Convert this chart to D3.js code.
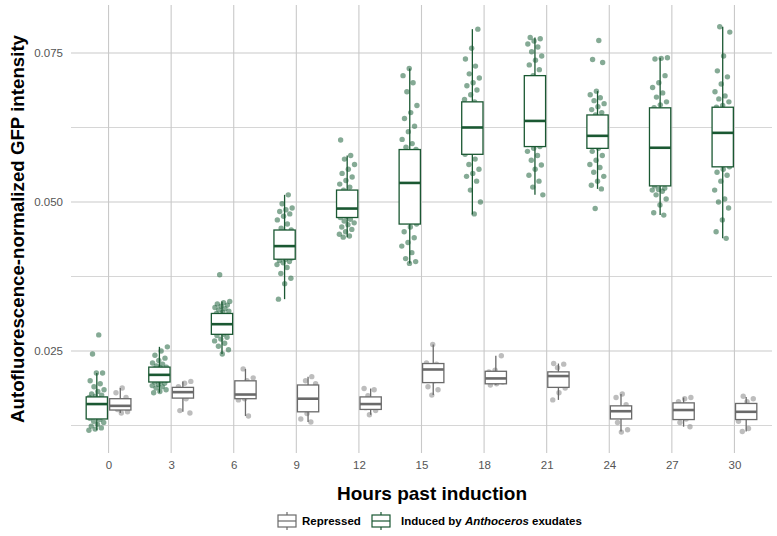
<!DOCTYPE html>
<html>
<head>
<meta charset="utf-8">
<script src="https://cdn.jsdelivr.net/npm/d3@7"></script>
<style>
  body { margin: 0; background: #fff; }
  text { font-family: "Liberation Sans", Arial, sans-serif; }
</style>
</head>
<body>
<div id="chart"></div>
<script>

///////////////////////////////////////////////////////////////////////////
//////////////////////////////// The data /////////////////////////////////
///////////////////////////////////////////////////////////////////////////

var hours = [0, 3, 6, 9, 12, 15, 18, 21, 24, 27, 30];
var yTicks = [0.025, 0.050, 0.075];
var yMinorTicks = [0.0125, 0.0375, 0.0625];

//Induced by Anthoceros exudates - box stats
var indQ1  = [0.0136, 0.0198, 0.0278, 0.0404, 0.0474, 0.0463, 0.0580, 0.0593, 0.0590, 0.0527, 0.0559];
var indMed = [0.0161, 0.0210, 0.0295, 0.0426, 0.0489, 0.0532, 0.0625, 0.0636, 0.0611, 0.0591, 0.0616];
var indQ3  = [0.0173, 0.0223, 0.0313, 0.0453, 0.0520, 0.0588, 0.0668, 0.0712, 0.0646, 0.0658, 0.0659];
var indLo  = [0.0117, 0.0180, 0.0245, 0.0337, 0.0441, 0.0397, 0.0479, 0.0512, 0.0522, 0.0478, 0.0439];
var indHi  = [0.0213, 0.0257, 0.0333, 0.0512, 0.0578, 0.0724, 0.0790, 0.0776, 0.0686, 0.0742, 0.0794];

//Repressed - box stats
var repQ1  = [0.0151, 0.0171, 0.0170, 0.0148, 0.0152, 0.0197, 0.0195, 0.0189, 0.0136, 0.0135, 0.0135];
var repMed = [0.0158, 0.0181, 0.0177, 0.0170, 0.0161, 0.0219, 0.0204, 0.0208, 0.0149, 0.0151, 0.0148];
var repQ3  = [0.0170, 0.0189, 0.0200, 0.0193, 0.0173, 0.0229, 0.0216, 0.0215, 0.0158, 0.0163, 0.0162];
var repLo  = [0.0146, 0.0148, 0.0141, 0.0131, 0.0143, 0.0176, 0.0193, 0.0168, 0.0115, 0.0123, 0.0115];
var repHi  = [0.0188, 0.0199, 0.0220, 0.0207, 0.0187, 0.0261, 0.0242, 0.0229, 0.0178, 0.0172, 0.0173];

//Individual measurements, one list per hour
var indPoints = [
  [0.0277, 0.0245, 0.0213, 0.0213, 0.0200, 0.0195, 0.0190, 0.0185, 0.0182, 0.0178, 0.0176, 0.0174, 0.0172, 0.0170, 0.0168, 0.0166, 0.0164, 0.0162, 0.0160, 0.0158, 0.0155, 0.0152, 0.0148, 0.0144, 0.0140, 0.0137, 0.0135, 0.0132, 0.0130, 0.0127, 0.0124, 0.0121, 0.0119, 0.0117],
  [0.0257, 0.0250, 0.0243, 0.0238, 0.0234, 0.0230, 0.0228, 0.0225, 0.0223, 0.0222, 0.0220, 0.0218, 0.0216, 0.0214, 0.0212, 0.0211, 0.0210, 0.0209, 0.0207, 0.0205, 0.0203, 0.0201, 0.0199, 0.0198, 0.0196, 0.0194, 0.0192, 0.0190, 0.0188, 0.0185, 0.0182, 0.0180],
  [0.0378, 0.0333, 0.0331, 0.0329, 0.0327, 0.0325, 0.0323, 0.0321, 0.0319, 0.0317, 0.0315, 0.0313, 0.0310, 0.0307, 0.0304, 0.0300, 0.0297, 0.0295, 0.0293, 0.0290, 0.0287, 0.0284, 0.0281, 0.0278, 0.0276, 0.0273, 0.0270, 0.0267, 0.0263, 0.0258, 0.0252, 0.0245],
  [0.0512, 0.0497, 0.0490, 0.0487, 0.0484, 0.0480, 0.0476, 0.0470, 0.0463, 0.0456, 0.0453, 0.0450, 0.0446, 0.0441, 0.0436, 0.0431, 0.0428, 0.0426, 0.0424, 0.0421, 0.0417, 0.0413, 0.0409, 0.0406, 0.0404, 0.0402, 0.0400, 0.0398, 0.0395, 0.0390, 0.0380, 0.0372, 0.0363, 0.0337],
  [0.0604, 0.0578, 0.0572, 0.0563, 0.0555, 0.0548, 0.0542, 0.0536, 0.0530, 0.0525, 0.0520, 0.0515, 0.0508, 0.0500, 0.0494, 0.0490, 0.0488, 0.0485, 0.0482, 0.0479, 0.0476, 0.0474, 0.0471, 0.0468, 0.0465, 0.0462, 0.0458, 0.0454, 0.0450, 0.0446, 0.0443, 0.0441],
  [0.0724, 0.0712, 0.0700, 0.0685, 0.0662, 0.0650, 0.0640, 0.0627, 0.0618, 0.0605, 0.0598, 0.0592, 0.0588, 0.0580, 0.0570, 0.0560, 0.0550, 0.0540, 0.0532, 0.0525, 0.0515, 0.0505, 0.0495, 0.0480, 0.0470, 0.0463, 0.0458, 0.0450, 0.0440, 0.0432, 0.0426, 0.0415, 0.0405, 0.0400, 0.0397],
  [0.0790, 0.0758, 0.0740, 0.0728, 0.0715, 0.0708, 0.0700, 0.0695, 0.0688, 0.0680, 0.0672, 0.0668, 0.0660, 0.0650, 0.0640, 0.0632, 0.0627, 0.0625, 0.0620, 0.0612, 0.0603, 0.0595, 0.0588, 0.0580, 0.0572, 0.0563, 0.0555, 0.0548, 0.0543, 0.0535, 0.0520, 0.0500, 0.0480],
  [0.0776, 0.0774, 0.0770, 0.0765, 0.0760, 0.0752, 0.0745, 0.0738, 0.0730, 0.0722, 0.0712, 0.0700, 0.0685, 0.0670, 0.0655, 0.0645, 0.0638, 0.0635, 0.0628, 0.0618, 0.0608, 0.0600, 0.0593, 0.0590, 0.0585, 0.0578, 0.0570, 0.0562, 0.0555, 0.0545, 0.0535, 0.0525, 0.0512],
  [0.0771, 0.0739, 0.0734, 0.0686, 0.0680, 0.0675, 0.0670, 0.0665, 0.0660, 0.0655, 0.0650, 0.0646, 0.0640, 0.0632, 0.0625, 0.0618, 0.0612, 0.0610, 0.0605, 0.0600, 0.0595, 0.0590, 0.0585, 0.0578, 0.0570, 0.0563, 0.0558, 0.0550, 0.0543, 0.0535, 0.0528, 0.0522, 0.0489],
  [0.0742, 0.0741, 0.0740, 0.0712, 0.0700, 0.0692, 0.0683, 0.0676, 0.0668, 0.0663, 0.0658, 0.0648, 0.0638, 0.0625, 0.0612, 0.0600, 0.0591, 0.0585, 0.0575, 0.0565, 0.0555, 0.0545, 0.0535, 0.0527, 0.0523, 0.0521, 0.0520, 0.0518, 0.0512, 0.0505, 0.0495, 0.0482, 0.0478],
  [0.0794, 0.0785, 0.0745, 0.0720, 0.0710, 0.0698, 0.0685, 0.0678, 0.0673, 0.0668, 0.0662, 0.0659, 0.0650, 0.0640, 0.0630, 0.0620, 0.0616, 0.0610, 0.0600, 0.0590, 0.0580, 0.0570, 0.0559, 0.0555, 0.0550, 0.0545, 0.0535, 0.0520, 0.0505, 0.0500, 0.0490, 0.0470, 0.0450, 0.0439]
];

var repPoints = [
  [0.0188, 0.0180, 0.0172, 0.0166, 0.0160, 0.0156, 0.0152, 0.0148, 0.0146],
  [0.0199, 0.0196, 0.0190, 0.0185, 0.0180, 0.0176, 0.0170, 0.0150, 0.0146],
  [0.0220, 0.0205, 0.0200, 0.0185, 0.0177, 0.0170, 0.0168, 0.0141],
  [0.0207, 0.0200, 0.0195, 0.0180, 0.0170, 0.0160, 0.0145, 0.0136, 0.0131],
  [0.0187, 0.0185, 0.0175, 0.0165, 0.0160, 0.0155, 0.0150, 0.0143],
  [0.0261, 0.0230, 0.0228, 0.0220, 0.0215, 0.0200, 0.0190, 0.0185, 0.0176],
  [0.0242, 0.0218, 0.0215, 0.0210, 0.0204, 0.0198, 0.0195, 0.0193],
  [0.0229, 0.0228, 0.0222, 0.0212, 0.0205, 0.0195, 0.0188, 0.0180, 0.0168],
  [0.0178, 0.0172, 0.0160, 0.0152, 0.0148, 0.0140, 0.0130, 0.0118, 0.0114],
  [0.0172, 0.0170, 0.0165, 0.0158, 0.0150, 0.0142, 0.0136, 0.0130, 0.0123],
  [0.0174, 0.0170, 0.0165, 0.0158, 0.0148, 0.0140, 0.0132, 0.0120, 0.0115]
];

///////////////////////////////////////////////////////////////////////////
//////////////////////////// Set up the SVG ///////////////////////////////
///////////////////////////////////////////////////////////////////////////

var width = 777,
	height = 536;
var panel = { left: 71, right: 772, top: 5, bottom: 453 };

var greenLine = "#1a5832",
	greenDot = "#2c6c48",
	greyLine = "#6a6a6a",
	greyDot = "#8e8e8e";

var svg = d3.select("#chart")
	.append("svg")
	.attr("width", width)
	.attr("height", height);

//Discrete hours, ggplot style expansion
var x = d3.scalePoint()
	.domain(hours)
	.range([panel.left, panel.right])
	.padding(0.6);
var step = x.step();

var y = d3.scaleLinear()
	.domain([0.00789, 0.08305])
	.range([panel.bottom, panel.top]);

var dodge = step * 0.1875,
	boxW = step * 0.34,
	jitterW = step * 0.13;

///////////////////////////////////////////////////////////////////////////
/////////////////////////////// Gridlines /////////////////////////////////
///////////////////////////////////////////////////////////////////////////

var grid = svg.append("g").attr("class", "grid");

grid.selectAll(".minor")
	.data(yMinorTicks)
	.enter().append("line")
	.attr("x1", panel.left).attr("x2", panel.right)
	.attr("y1", function(d) { return y(d); })
	.attr("y2", function(d) { return y(d); })
	.style("stroke", "#d6d6d6")
	.style("stroke-width", 1);

grid.selectAll(".major-y")
	.data(yTicks)
	.enter().append("line")
	.attr("x1", panel.left).attr("x2", panel.right)
	.attr("y1", function(d) { return y(d); })
	.attr("y2", function(d) { return y(d); })
	.style("stroke", "#c9c9c9")
	.style("stroke-width", 1.1);

grid.selectAll(".major-x")
	.data(hours)
	.enter().append("line")
	.attr("x1", function(d) { return x(d); })
	.attr("x2", function(d) { return x(d); })
	.attr("y1", panel.top).attr("y2", panel.bottom)
	.style("stroke", "#c9c9c9")
	.style("stroke-width", 1.1);

///////////////////////////////////////////////////////////////////////////
///////////////////////////////// Axes ////////////////////////////////////
///////////////////////////////////////////////////////////////////////////

var yAxis = svg.append("g")
	.attr("transform", "translate(" + (panel.left - 8) + ",0)")
	.call(d3.axisLeft(y).tickValues(yTicks).tickSize(0).tickPadding(0).tickFormat(d3.format(".3f")));
yAxis.select(".domain").remove();
yAxis.selectAll("text")
	.style("font-size", "11.5px")
	.style("fill", "#555")
	.style("font-family", "'Liberation Sans', Arial, sans-serif");

var xAxis = svg.append("g")
	.attr("transform", "translate(0," + (panel.bottom + 5) + ")")
	.call(d3.axisBottom(x).tickSize(0).tickPadding(3));
xAxis.select(".domain").remove();
xAxis.selectAll("text")
	.style("font-size", "11.5px")
	.style("fill", "#555")
	.style("font-family", "'Liberation Sans', Arial, sans-serif");

svg.append("text")
	.attr("x", 432)
	.attr("y", 500)
	.attr("text-anchor", "middle")
	.style("font-size", "19px")
	.style("font-weight", "bold")
	.text("Hours past induction");

svg.append("text")
	.attr("transform", "translate(24," + ((panel.top + panel.bottom) / 2) + ") rotate(-90)")
	.attr("text-anchor", "middle")
	.style("font-size", "18.7px")
	.style("font-weight", "bold")
	.text("Autofluorescence-normalized GFP intensity");

///////////////////////////////////////////////////////////////////////////
/////////////////////////// Jittered points ///////////////////////////////
///////////////////////////////////////////////////////////////////////////

//Fixed, evenly spread jitter (golden ratio steps) so the picture is stable
function jitter(i, h) {
	var u = ((i + 1) * 0.618034 + h * 0.37) % 1;
	return (u - 0.5) * 2 * jitterW;
}

function drawPoints(lists, side, color) {
	var flat = [];
	lists.forEach(function(vals, h) {
		vals.forEach(function(v, i) { flat.push({ hour: hours[h], h: h, i: i, value: v }); });
	});
	svg.append("g").selectAll("circle")
		.data(flat)
		.enter().append("circle")
		.attr("cx", function(d) { return x(d.hour) + side * dodge + jitter(d.i, d.h); })
		.attr("cy", function(d) { return y(d.value); })
		.attr("r", 2.7)
		.style("fill", color)
		.style("fill-opacity", 0.58);
}

drawPoints(indPoints, -1, greenDot);
drawPoints(repPoints, 1, greyDot);

///////////////////////////////////////////////////////////////////////////
/////////////////////////////// Boxplots //////////////////////////////////
///////////////////////////////////////////////////////////////////////////

function drawBoxes(q1, med, q3, lo, hi, side, color) {
	var data = hours.map(function(hr, i) {
		return { hour: hr, q1: q1[i], med: med[i], q3: q3[i], lo: lo[i], hi: hi[i] };
	});
	var g = svg.append("g").selectAll("g")
		.data(data)
		.enter().append("g")
		.attr("transform", function(d) { return "translate(" + (x(d.hour) + side * dodge) + ",0)"; });

	g.append("line")
		.attr("y1", function(d) { return y(d.hi); })
		.attr("y2", function(d) { return y(d.q3); })
		.style("stroke", color).style("stroke-width", 1.3);
	g.append("line")
		.attr("y1", function(d) { return y(d.q1); })
		.attr("y2", function(d) { return y(d.lo); })
		.style("stroke", color).style("stroke-width", 1.3);
	g.append("rect")
		.attr("x", -boxW / 2)
		.attr("width", boxW)
		.attr("y", function(d) { return y(d.q3); })
		.attr("height", function(d) { return y(d.q1) - y(d.q3); })
		.style("fill", "#fff")
		.style("stroke", color)
		.style("stroke-width", 1.3);
	g.append("line")
		.attr("x1", -boxW / 2).attr("x2", boxW / 2)
		.attr("y1", function(d) { return y(d.med); })
		.attr("y2", function(d) { return y(d.med); })
		.style("stroke", color).style("stroke-width", 2.6);
}

drawBoxes(indQ1, indMed, indQ3, indLo, indHi, -1, greenLine);
drawBoxes(repQ1, repMed, repQ3, repLo, repHi, 1, greyLine);

///////////////////////////////////////////////////////////////////////////
//////////////////////////////// Legend ///////////////////////////////////
///////////////////////////////////////////////////////////////////////////

var legend = svg.append("g").attr("transform", "translate(0,521)");

function legendKey(x0, color) {
	var k = legend.append("g").attr("transform", "translate(" + x0 + ",0)");
	k.append("line").attr("x1", 9).attr("x2", 9).attr("y1", -9).attr("y2", 9)
		.style("stroke", color).style("stroke-width", 1.2);
	k.append("rect").attr("x", 0).attr("y", -6).attr("width", 18).attr("height", 12)
		.style("fill", "#fff").style("stroke", color).style("stroke-width", 1.2);
	k.append("line").attr("x1", 0).attr("x2", 18).attr("y1", 0).attr("y2", 0)
		.style("stroke", color).style("stroke-width", 1.2);
}

legendKey(278, greyLine);
legendKey(372, greenLine);

legend.append("text")
	.attr("x", 302).attr("y", 4)
	.style("font-size", "11.5px").style("font-weight", "bold")
	.text("Repressed");

var lt = legend.append("text")
	.attr("x", 401).attr("y", 4)
	.style("font-size", "11.5px").style("font-weight", "bold");
lt.append("tspan").text("Induced by ");
lt.append("tspan").style("font-style", "italic").text("Anthoceros");
lt.append("tspan").text(" exudates");

</script>
</body>
</html>
